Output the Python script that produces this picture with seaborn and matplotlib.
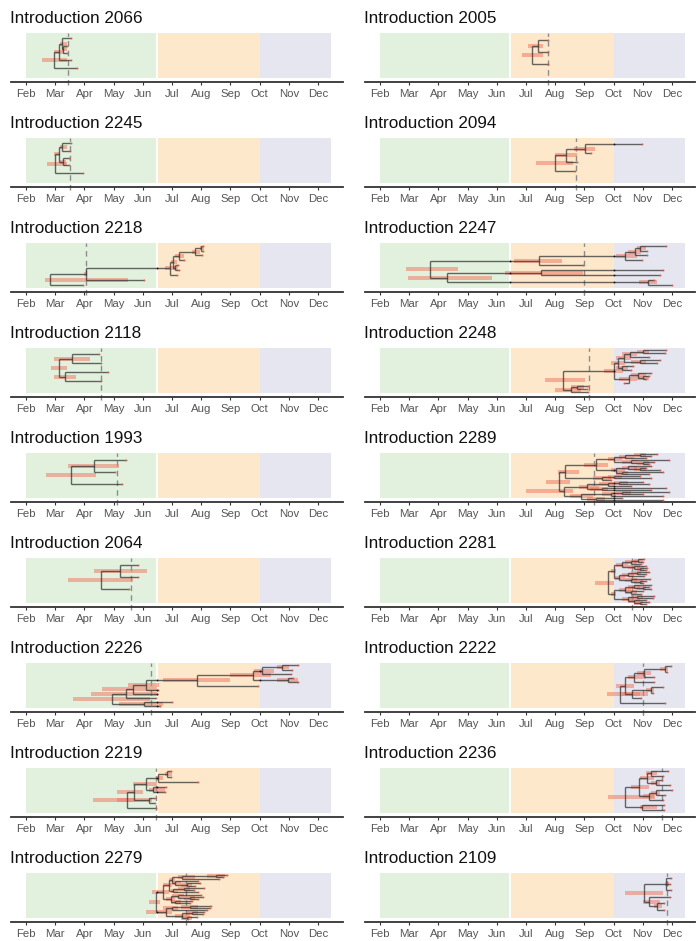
import numpy as np
import pandas as pd
import matplotlib
matplotlib.use("Agg")
import matplotlib.pyplot as plt
import seaborn as sns

sns.set_theme(style="white")
plt.rcParams["font.family"] = ["Liberation Sans", "DejaVu Sans"]

# ---------------- data ----------------
# dates are in month units: 2.0 = 1 Feb, 3.0 = 1 Mar, ... 12.0 = 1 Dec
month_labels = ["Feb", "Mar", "Apr", "May", "Jun", "Jul", "Aug", "Sep", "Oct", "Nov", "Dec"]
month_ticks = [2, 3, 4, 5, 6, 7, 8, 9, 10, 11, 12]

season_edges = [2.0, 6.47, 10.0, 12.45]
season_colors = ["#e2f1de", "#fde8cc", "#e6e6f0"]

left_ids = ["2066", "2245", "2218", "2118", "1993", "2064", "2226", "2219", "2279"]
left_dashed = [3.45, 3.51, 4.05, 4.57, 5.13, 5.58, 6.28, 6.45, 7.47]
right_ids = ["2005", "2094", "2247", "2248", "2289", "2281", "2222", "2236", "2109"]
right_dashed = [7.75, 8.71, 8.98, 9.15, 9.32, 10.62, 11.02, 11.67, 11.83]

# trees: internal node = [date, hpd_low, hpd_high, child, child, ...]; tip = date
tree_2066 = [2.97, 2.56, 3.40,
             [3.14, 2.95, 3.30,
              [3.22, 3.15, 3.40, 3.53, [3.28, 3.22, 3.40, 3.42, 3.42]],
              3.53],
             3.74]
tree_2245 = [2.99, 2.73, 3.39,
             [3.12, 2.95, 3.15,
              [3.22, 3.17, 3.39, 3.55, 3.52],
              [3.25, 3.15, 3.38, 3.48, 3.46]],
             3.94]
tree_2218 = [2.82, 2.65, 5.48,
             [4.05, 4.0, 4.1,
              [6.93, 6.75, 7.10,
               [7.03, 6.95, 7.18,
                [7.25, 7.10, 7.40,
                 [7.79, 7.70, 7.95, [8.0, 7.95, 8.08, 8.05, 8.05], 8.02],
                 7.40],
                [7.10, 7.05, 7.20, 7.20, 7.25]],
               7.16],
              6.04],
             3.96]
tree_2118 = [3.13, 2.87, 3.41,
             [3.56, 2.96, 4.19, 4.50, 4.58],
             [3.34, 2.96, 3.71, 4.82, 4.58]]
tree_1993 = [3.53, 2.67, 4.39,
             [4.33, 3.45, 5.20, 5.42, 5.05],
             5.30]
tree_2064 = [4.56, 3.45, 5.65,
             [5.22, 4.33, 6.13, 5.82, 5.82],
             5.54]
tree_2226 = [4.93, 3.60, 6.25,
             [5.42, 4.24, 6.47,
              [5.65, 4.60, 6.50,
               [6.11, 5.50, 6.55,
                [7.87, 6.70, 8.99,
                 [9.78, 9.00, 10.40,
                  [10.07, 9.80, 10.50, [10.77, 10.60, 11.0, 11.32, 11.12], 11.07],
                  [10.96, 10.60, 11.30, 11.16, 11.30]],
                 9.96],
                6.52],
               6.49],
              6.44],
             [6.04, 5.20, 6.70, 7.00, 6.60]]
tree_2219 = [5.47, 4.30, 5.73,
             [5.70, 5.10, 6.00,
              [6.11, 5.65, 6.47,
               [6.52, 6.45, 6.70, [6.82, 6.75, 7.00, 6.95, 6.95], 7.88],
               [6.35, 6.20, 6.75, 6.80, 6.75]],
              [6.20, 5.10, 6.30, 6.42, 6.42]],
             6.45]
tree_2279 = [6.45, 6.20, 6.60,
             [6.70, 6.30, 6.90,
              [6.88, 6.70, 7.00,
               [7.00, 6.90, 7.10,
                [7.35, 7.20, 7.80, [8.50, 8.20, 8.80, 8.90, 8.75], 8.60],
                [7.10, 7.00, 7.30, 7.90, [7.50, 7.30, 7.70, 7.95, 7.80]]],
               [7.05, 6.95, 7.20, [7.40, 7.20, 7.60, 8.10, 7.75], 7.90]],
              [6.95, 6.80, 7.10,
               [7.20, 7.00, 7.40, 8.00, [7.60, 7.40, 7.80, 8.05, 7.90]],
               [7.10, 6.95, 7.30, 7.70, 7.60]]],
             [6.80, 6.10, 7.00,
              [7.00, 6.70, 7.20, [7.60, 7.30, 7.90, 8.35, 8.30], 8.20],
              [7.35, 7.10, 7.60, [7.70, 7.50, 7.90, 8.10, 8.05], [7.50, 7.30, 7.70, 7.85, 7.55]]]]

tree_2005 = [7.20, 6.86, 7.57,
             [7.41, 7.08, 7.60, 7.74, 7.74],
             7.74]
tree_2094 = [7.98, 7.34, 8.60,
             [8.37, 7.98, 8.75, [9.01, 8.63, 9.38, 10.98, 9.24], 8.75],
             8.69]
tree_2247 = [3.71, 2.90, 4.67,
             [7.43, 6.60, 8.25,
              [10.38, 10.10, 10.80,
               [10.73, 10.50, 10.95, [10.92, 10.80, 11.10, 11.78, 11.15], 11.15],
               10.98],
              8.97],
             [4.28, 2.97, 5.84,
              [7.52, 6.27, 8.94, 11.68, 11.60],
              [11.19, 10.88, 11.50, 11.39, 12.00]]]
tree_2248 = [8.26, 7.66, 9.01,
             [10.01, 9.66, 10.31,
              [10.15, 9.90, 10.40,
               [10.35, 10.10, 10.60,
                [10.55, 10.30, 10.80, [11.00, 10.80, 11.20, 11.80, 11.75], 11.21],
                [10.90, 10.60, 11.10, 11.59, 11.50]],
               [10.30, 10.10, 10.50, 10.67, 10.60]],
              [10.54, 10.20, 10.80,
               [10.85, 10.60, 11.10, 11.30, [11.00, 10.80, 11.20, 11.20, 11.10]],
               10.36]],
             [8.55, 8.00, 8.90, [8.75, 8.55, 9.00, 9.12, 9.10], 9.12]]
tree_2289 = [8.12, 7.70, 8.50,
             [8.35, 8.10, 8.80,
              [9.40, 9.00, 9.80,
               [10.00, 9.80, 10.30,
                [10.40, 10.20, 10.70, [10.90, 10.70, 11.10, 11.50, 11.30], 11.10],
                [10.60, 10.30, 10.80, 11.90, [11.00, 10.80, 11.20, 11.40, 11.20]]],
               [10.10, 9.90, 10.40,
                [10.50, 10.30, 10.80, 11.30, [10.90, 10.70, 11.10, 11.10, 11.60]],
                [10.30, 10.10, 10.50, 11.70, 11.20]]],
              [9.60, 9.30, 9.90, [10.00, 9.80, 10.30, 10.90, 11.30], 9.90]],
             [8.30, 7.00, 8.60,
              [9.10, 8.80, 9.50,
               [9.80, 9.50, 10.00, [10.20, 10.00, 10.50, 11.00, 11.20], 10.60],
               [9.60, 9.20, 9.80, 11.80, 11.30]],
              [8.90, 8.50, 9.30,
               [9.90, 9.60, 10.10, [10.30, 10.10, 10.60, 11.90, 11.00], 11.70],
               [9.40, 9.10, 9.70, 10.30, 11.70]]]]
tree_2281 = [9.81, 9.35, 10.01,
             [10.00, 9.90, 10.10,
              [10.30, 10.10, 10.50,
               [10.60, 10.40, 10.80, [10.85, 10.70, 11.00, 11.05, 11.00], 10.95],
               [10.70, 10.50, 10.90, 11.10, [10.90, 10.80, 11.05, 11.15, 11.10]]],
              [10.20, 10.05, 10.40,
               [10.50, 10.30, 10.70, [10.80, 10.60, 10.95, 11.20, 11.10], 11.05],
               [10.60, 10.40, 10.80, 11.25, [10.90, 10.70, 11.00, 11.10, 11.00]]]],
             [10.00, 9.90, 10.10,
              [10.40, 10.20, 10.60,
               [10.70, 10.50, 10.90, 11.30, [11.00, 10.80, 11.10, 11.20, 11.30]],
               [10.60, 10.40, 10.80, 11.00, 10.95]],
              [10.50, 10.30, 10.70,
               [10.80, 10.60, 11.00, 11.40, 11.35],
               [10.70, 10.50, 10.90, 11.10, [10.90, 10.70, 11.00, 11.20, 11.10]]]]]
tree_2222 = [10.21, 9.76, 11.18,
             [10.40, 10.10, 10.70,
              [10.70, 10.50, 11.10,
               [11.03, 10.80, 11.30, [11.75, 11.60, 11.85, 11.98, 11.83], 11.40],
               11.38],
              [10.62, 10.30, 10.90, [11.30, 11.10, 11.40, 11.69, 11.35], 10.95]],
             11.77]
tree_2236 = [10.38, 9.81, 11.41,
             [10.88, 10.60, 11.20,
              [11.13, 10.90, 11.40, [11.30, 11.10, 11.50, 11.87, 11.70], [11.45, 11.30, 11.60, 11.65, 11.92]],
              [11.20, 11.00, 11.40, [11.45, 11.30, 11.60, 12.00, 11.75], 11.70]],
             [10.96, 10.90, 11.50, 11.73, 11.73]]
tree_2109 = [11.03, 10.40, 11.70,
             [11.80, 11.75, 11.90, 11.97, 11.95, 11.97],
             [11.20, 11.00, 11.60, 11.95, [11.50, 11.40, 11.65, 11.73, 11.72]]]

left_trees = [tree_2066, tree_2245, tree_2218, tree_2118, tree_1993, tree_2064, tree_2226, tree_2219, tree_2279]
right_trees = [tree_2005, tree_2094, tree_2247, tree_2248, tree_2289, tree_2281, tree_2222, tree_2236, tree_2109]


# ---------------- layout helpers ----------------
def count_tips(t):
    return 1 if not isinstance(t, list) else sum(count_tips(c) for c in t[3:])


def layout(tree):
    n = count_tips(tree)
    h, v, hpd, tips = [], [], [], []
    counter = [0]

    def walk(t, px):
        if not isinstance(t, list):
            y = n - 1 - counter[0]
            counter[0] += 1
            h.append((px, t, y))
            tips.append((t, y))
            return y
        x, lo, hi = t[:3]
        ys = [walk(c, x) for c in t[3:]]
        y = (min(ys) + max(ys)) / 2
        v.append((x, min(ys), max(ys)))
        if px is not None:
            h.append((px, x, y))
        hpd.append((lo, hi, y))
        return y

    walk(tree, None)
    return n, pd.DataFrame(h, columns=["x0", "x1", "y"]), pd.DataFrame(v, columns=["x", "y0", "y1"]), \
        pd.DataFrame(hpd, columns=["lo", "hi", "y"]), pd.DataFrame(tips, columns=["x", "y"])


W, H = 696, 941
fig = plt.figure(figsize=(W / 100, H / 100), dpi=100)

col_geom = [(11, 332, 1.486, 12.856), (364.7, 330, 1.476, 12.78)]
row_top0, ax_h, row_step = 32.7, 49.6, 105

line_col = "#2e2e2e"
hpd_col = "#ef7b64"

for c, (ids, dashed, trees) in enumerate([(left_ids, left_dashed, left_trees),
                                           (right_ids, right_dashed, right_trees)]):
    x0px, wpx, xl, xr = col_geom[c]
    for r in range(9):
        top = row_top0 + r * row_step
        ax = fig.add_axes([x0px / W, 1 - (top + ax_h) / H, wpx / W, ax_h / H])
        ax.set_facecolor("none")
        ax.set_xlim(xl, xr)

        n, dh, dv, dhpd, dtips = layout(trees[r])
        lo_f = np.interp(n, [3, 5, 9, 14, 25], [0.36, 0.29, 0.15, 0.10, 0.05])
        hi_f = np.interp(n, [3, 5, 9, 14, 25], [0.85, 0.89, 0.94, 0.95, 0.97])
        span = (n - 1) / (hi_f - lo_f)
        ax.set_ylim(-lo_f * span, (1 - lo_f) * span)

        # season backgrounds
        for k in range(3):
            ax.axvspan(season_edges[k], season_edges[k + 1], ymin=0.09, ymax=1.0,
                       color=season_colors[k], lw=0, zorder=0)
        ax.axvline(season_edges[1], ymin=0.09, ymax=1.0, color="white", lw=1.3, zorder=0.5)

        # dashed line
        ax.axvline(dashed[r], ymin=-0.06, ymax=1.0, color="#8c8c8c", lw=1.0,
                   ls=(0, (4, 3)), clip_on=False, zorder=1)

        # HPD bars
        ax.hlines(dhpd["y"], dhpd["lo"], dhpd["hi"], color=hpd_col, lw=2.9, alpha=0.55, zorder=2)
        # tree branches
        ax.hlines(dh["y"], dh["x0"], dh["x1"], color=line_col, lw=1.0, alpha=0.72, zorder=3)
        ax.vlines(dv["x"], dv["y0"], dv["y1"], color=line_col, lw=1.0, alpha=0.72, zorder=3)
        # tip ends
        ax.plot(dtips["x"], dtips["y"], "o", ms=1.5, color="#e0553f", alpha=0.75, mew=0, zorder=4)
        # crossings of season boundaries
        for b in season_edges[1:3]:
            cr = dh[(dh["x0"] < b) & (dh["x1"] > b)]
            ax.plot([b] * len(cr), cr["y"], "o", ms=1.4, color="#111111", alpha=0.85, mew=0, zorder=4)

        sns.despine(ax=ax, left=True, top=True, right=True)
        ax.spines["bottom"].set_color("#333333")
        ax.spines["bottom"].set_linewidth(1.3)
        ax.set_yticks([])
        ax.set_xticks(month_ticks)
        ax.set_xticklabels(month_labels)
        ax.tick_params(axis="x", length=2.5, width=0.8, color="#333333", labelsize=8.2,
                       labelcolor="#555555", pad=2.5, bottom=True)
        ax.grid(False)
        ax.set_title(f"Introduction {ids[r]}", loc="left", fontsize=12.3, pad=7,
                     color="#111111", x=-0.003)

fig.savefig("out.png", dpi=100)
